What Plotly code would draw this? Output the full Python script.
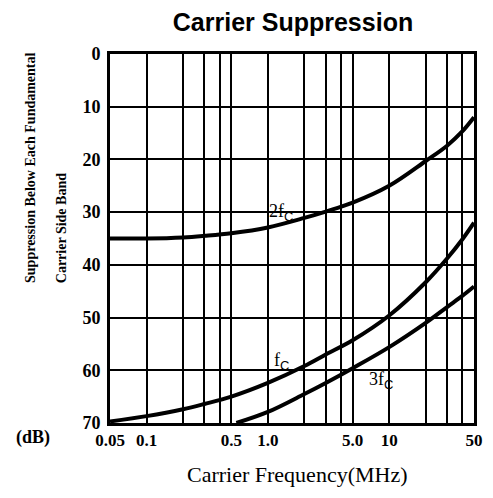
import plotly.graph_objects as go

# Carrier frequency (MHz) and suppression (dB)
fc_x = [0.05, 0.1, 0.2, 0.3, 0.5, 1.0, 2.0, 3.0, 5.0, 10, 20, 30, 40, 50]
fc_y = [69.7, 68.7, 67.4, 66.4, 65.0, 62.4, 59.2, 57.0, 54.3, 49.6, 43.3, 38.8, 35.2, 32.0]

f2_x = [0.05, 0.1, 0.2, 0.3, 0.5, 1.0, 2.0, 3.0, 5.0, 10, 20, 30, 40, 50]
f2_y = [35.0, 35.0, 34.8, 34.5, 34.0, 32.9, 31.1, 29.9, 28.2, 25.0, 20.3, 17.4, 14.7, 12.0]

f3_x = [0.55, 1.0, 2.0, 3.0, 5.0, 10, 20, 30, 40, 50]
f3_y = [70.0, 67.9, 64.5, 62.4, 59.6, 55.6, 51.0, 48.0, 45.9, 44.1]

x_tickvals = [0.05, 0.1, 0.5, 1.0, 5.0, 10, 50]
x_ticktext = ["0.05", "0.1", "0.5", "1.0", "5.0", "10", "50"]
x_minor = [0.2, 0.3, 0.4, 2, 3, 4, 20, 30, 40]
y_tickvals = [0, 10, 20, 30, 40, 50, 60, 70]

SERIF = "Liberation Serif, Times New Roman, serif"
OFF = 8  # page body margin of the browser

fig = go.Figure()
for xs, ys in [(f2_x, f2_y), (fc_x, fc_y), (f3_x, f3_y)]:
    fig.add_trace(go.Scatter(x=xs, y=ys, mode="lines",
                             line=dict(color="black", width=4, shape="spline", smoothing=1.0),
                             showlegend=False, hoverinfo="skip"))

fig.update_xaxes(type="log", range=[-1.30103, 1.69897],
                 tickvals=x_tickvals, ticktext=x_ticktext, ticks="",
                 tickfont=dict(family=SERIF, size=17, color="black", weight="bold"),
                 showgrid=True, gridcolor="black", gridwidth=1.5,
                 minor=dict(tickvals=x_minor, showgrid=True, gridcolor="black", gridwidth=1.5, ticks=""),
                 showline=True, linecolor="black", linewidth=3, mirror=True, zeroline=False)
fig.update_yaxes(range=[70, 0], tickvals=y_tickvals, ticks="",
                 tickfont=dict(family=SERIF, size=18, color="black", weight="bold"),
                 ticklabelstandoff=3,
                 showgrid=True, gridcolor="black", gridwidth=1.5,
                 showline=True, linecolor="black", linewidth=3, mirror=True, zeroline=False)


def px2paper(px, py):
    return (px - 110) / 373, (423 - py) / 369


SUBC = "<sub><span style='font-family:Liberation Sans;font-size:13px'>C</span></sub>"
labels = [
    ("2f" + SUBC, 285, 212, (269, 203, 299, 221)),
    ("f" + SUBC, 286, 361, (275, 353, 297, 371)),
    ("3f" + SUBC, 388, 380, (375, 372, 401, 390)),
]
for txt, px, py, box in labels:
    x0, y0 = px2paper(box[0], box[3])
    x1, y1 = px2paper(box[2], box[1])
    fig.add_shape(type="rect", xref="paper", yref="paper", x0=x0, y0=y0, x1=x1, y1=y1,
                  fillcolor="white", line=dict(width=0), layer="between")
    ax, ay = px2paper(px, py)
    fig.add_annotation(text=txt, xref="paper", yref="paper", x=ax, y=ay,
                       xanchor="center", yanchor="middle",
                       showarrow=False, font=dict(family=SERIF, size=18, color="black"))

side = [
    ("Suppression Below Each Fundamental", 28, 167, -90, 14, "bold"),
    ("Carrier Side Band", 60, 228, -90, 14, "bold"),
    ("(dB)", 31, 438, 0, 18, "bold"),
    ("Carrier Frequency(MHz)", 302, 475, 0, 22, "normal"),
]
for txt, px, py, ang, sz, wt in side:
    ax, ay = px2paper(px, py)
    fig.add_annotation(text=txt, xref="paper", yref="paper", x=ax, y=ay,
                       xanchor="center", yanchor="middle", textangle=ang,
                       showarrow=False, font=dict(family=SERIF, size=sz, color="black", weight=wt))

W, H = 493 - OFF, 498 - OFF
fig.update_layout(
    width=W, height=H,
    margin=dict(l=110 - OFF, r=10, t=54 - OFF, b=75),
    paper_bgcolor="white", plot_bgcolor="white",
    title=dict(text="<b>Carrier Suppression</b>", x=(293 - OFF) / W, xanchor="center",
               y=1 - (22 - OFF) / H, yanchor="middle",
               font=dict(family="Liberation Sans, Arial, sans-serif", size=25, color="black")),
)

fig.write_html("out.html")
